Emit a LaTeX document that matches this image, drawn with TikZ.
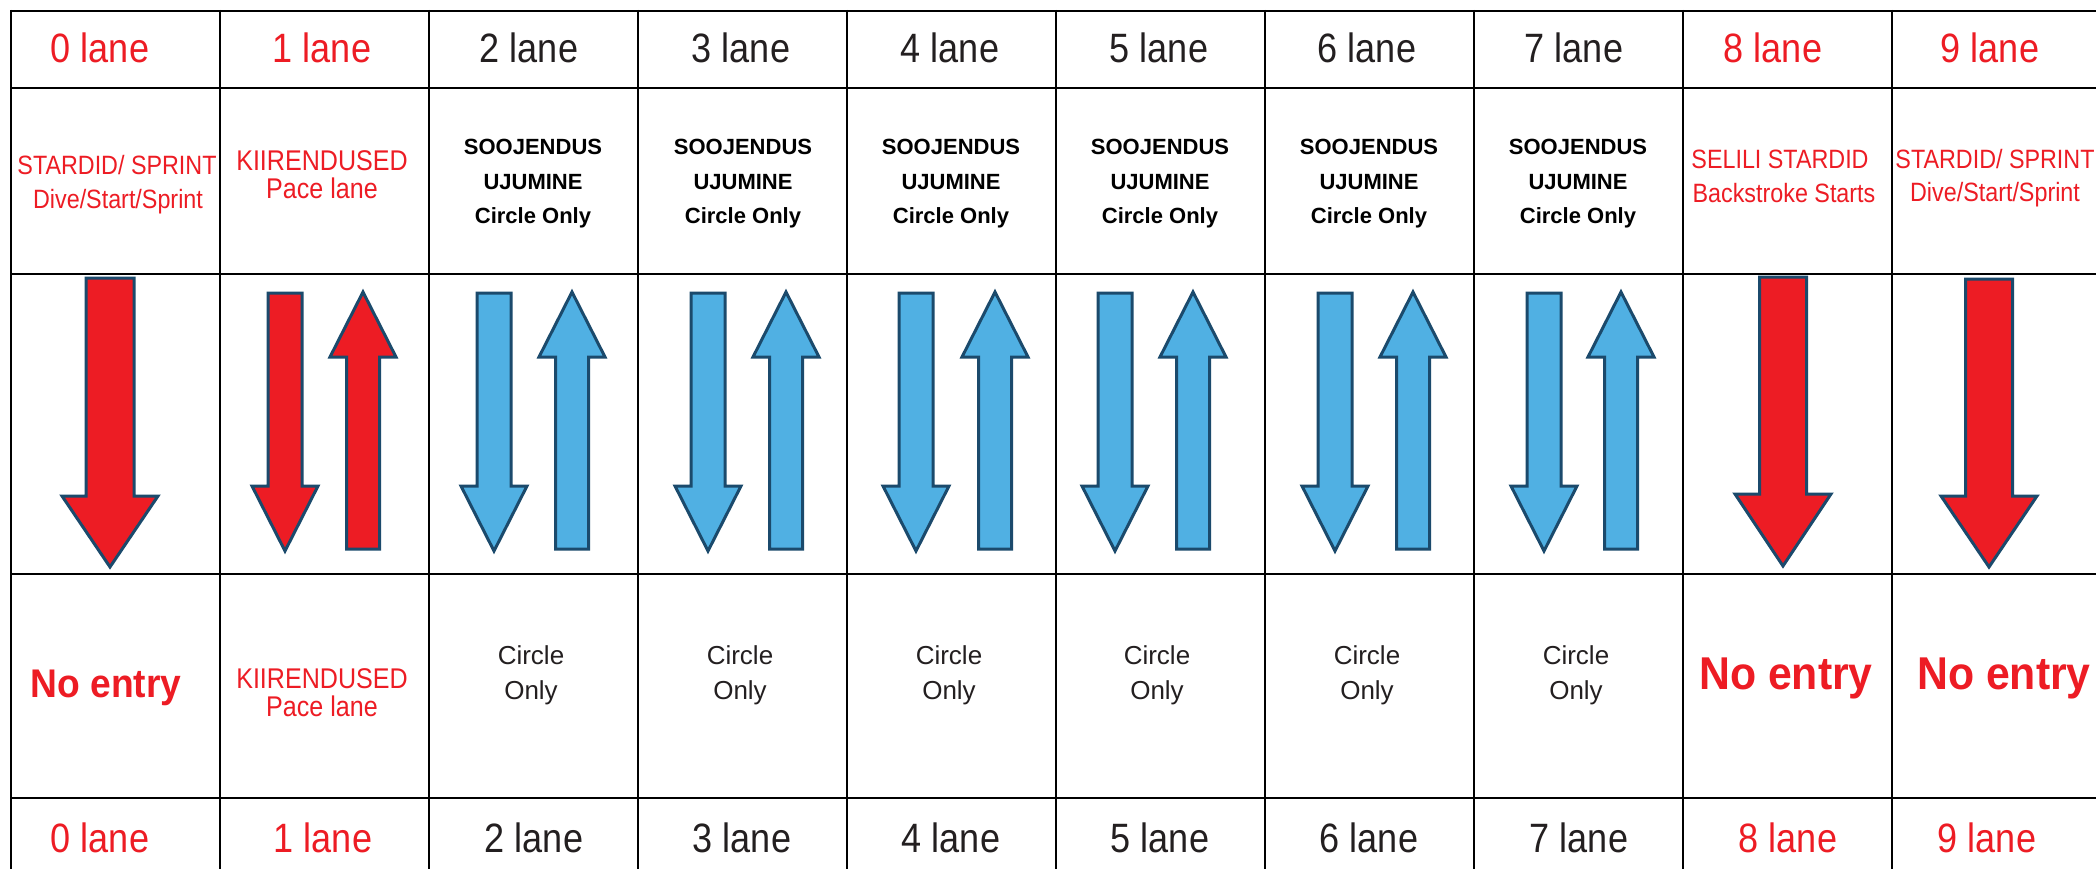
\documentclass[tikz,border=0pt]{standalone}
\usepackage{fontspec}
\setmainfont{Liberation Sans}
\newfontfamily\narrowfont[FakeStretch=0.88]{Liberation Sans}
\newfontfamily\plainfont{Liberation Sans}
\newfontfamily\entryfont[FakeStretch=0.93]{Liberation Sans}
\definecolor{lred}{HTML}{ED1C24}
\definecolor{lblack}{HTML}{231F20}
\definecolor{lblue}{HTML}{50B0E3}
\definecolor{edge}{HTML}{1B4A6C}

% down arrow: centre x, top, head base, tip, shaft width, head width, fill
\newcommand\lanedown[7]{%
  \filldraw[arrowline,fill=#7] ({#1-#5/2},#2) -- ({#1+#5/2},#2) -- ({#1+#5/2},#3)
    -- ({#1+#6/2},#3) -- (#1,#4) -- ({#1-#6/2},#3) -- ({#1-#5/2},#3) -- cycle;}
% up arrow: centre x, tip, head base, bottom, shaft width, head width, fill
\newcommand\laneup[7]{%
  \filldraw[arrowline,fill=#7] (#1,#2) -- ({#1+#6/2},#3) -- ({#1+#5/2},#3) -- ({#1+#5/2},#4)
    -- ({#1-#5/2},#4) -- ({#1-#5/2},#3) -- ({#1-#6/2},#3) -- cycle;}
% pair of arrows for a two-way lane
\newcommand\lanepair[3]{%
  \lanedown{#1}{293}{486}{551}{34}{66}{#3}%
  \laneup{#2}{292}{357}{549}{33}{66}{#3}}

\begin{document}
\begin{tikzpicture}[x=1pt,y=-1pt,
  grid/.style={line width=2.2pt,black},
  arrowline/.style={line width=3pt,draw=edge,line join=miter},
  txt/.style={inner sep=0pt,anchor=base},
  lanelbl/.style={txt,font=\narrowfont\fontsize{41}{41}\selectfont,text=lblack},
  info/.style={txt,font=\narrowfont\fontsize{26.5}{26.5}\selectfont,text=lred},
  infobig/.style={txt,font=\narrowfont\fontsize{28.5}{28.5}\selectfont,text=lred},
  warm/.style={txt,font=\plainfont\bfseries\fontsize{22}{22}\selectfont,text=black},
  circ/.style={txt,font=\plainfont\fontsize{26}{26}\selectfont,text=lblack},
  entry/.style={txt,font=\entryfont\bfseries\fontsize{#1}{#1}\selectfont,text=lred}]
\useasboundingbox (0,0) rectangle (2096,869);
\fill[white] (0,0) rectangle (2096,869);

% table grid
\foreach \gx in {11,220,429,638,847,1056,1265,1474,1683,1892}
  \draw[grid] (\gx,10) -- (\gx,880);
\foreach \gy in {11,88,274,574,798}
  \draw[grid] (10,\gy) -- (2110,\gy);

% lane numbers, top and bottom rows
\node[lanelbl,text=lred] (top0) at (100,63) {0 lane};
\node[lanelbl,text=lred] (top1) at (322,63) {1 lane};
\node[lanelbl] (top2) at (529,63) {2 lane};
\node[lanelbl] (top3) at (741,63) {3 lane};
\node[lanelbl] (top4) at (950,63) {4 lane};
\node[lanelbl] (top5) at (1159,63) {5 lane};
\node[lanelbl] (top6) at (1367,63) {6 lane};
\node[lanelbl] (top7) at (1574,63) {7 lane};
\node[lanelbl,text=lred] (top8) at (1773,63) {8 lane};
\node[lanelbl,text=lred] (top9) at (1990,63) {9 lane};

\node[lanelbl,text=lred] (bot0) at (100,852) {0 lane};
\node[lanelbl,text=lred] (bot1) at (323,852) {1 lane};
\node[lanelbl] (bot2) at (534,852) {2 lane};
\node[lanelbl] (bot3) at (742,852) {3 lane};
\node[lanelbl] (bot4) at (951,852) {4 lane};
\node[lanelbl] (bot5) at (1160,852) {5 lane};
\node[lanelbl] (bot6) at (1369,852) {6 lane};
\node[lanelbl] (bot7) at (1579,852) {7 lane};
\node[lanelbl,text=lred] (bot8) at (1788,852) {8 lane};
\node[lanelbl,text=lred] (bot9) at (1987,852) {9 lane};

% lane purpose
\node[info] (p0a) at (117,175) {STARDID/ SPRINT};
\node[info] (p0b) at (118,208) {Dive/Start/Sprint};
\node[infobig] (p1a) at (322,171) {KIIRENDUSED};
\node[infobig] (p1b) at (322,199) {Pace lane};
\foreach \c/\cx in {2/533,3/743,4/951,5/1160,6/1369,7/1578}{
  \node[warm] (p\c a) at (\cx,155) {SOOJENDUS};
  \node[warm] (p\c b) at (\cx,190) {UJUMINE};
  \node[warm] (p\c c) at (\cx,223) {Circle Only};
}
\node[info] (p8a) at (1780,169) {SELILI STARDID};
\node[info] (p8b) at (1784,203) {Backstroke Starts};
\node[info] (p9a) at (1995,169) {STARDID/ SPRINT};
\node[info] (p9b) at (1995,202) {Dive/Start/Sprint};

% swimming directions
\lanedown{110}{278}{496}{567}{48}{96}{lred}
\lanepair{285}{363}{lred}
\lanepair{494}{572}{lblue}
\lanepair{708}{786}{lblue}
\lanepair{916}{995}{lblue}
\lanepair{1115}{1193}{lblue}
\lanepair{1335}{1413}{lblue}
\lanepair{1544}{1621}{lblue}
\lanedown{1783}{277}{494}{566}{47}{96}{lred}
\lanedown{1989}{279}{496}{567}{47}{96}{lred}

% entry rules
\node[entry=40] (e0) at (106,697) {No entry};
\node[infobig] (e1a) at (322,688) {KIIRENDUSED};
\node[infobig] (e1b) at (322,716) {Pace lane};
\foreach \c/\cx in {2/531,3/740,4/949,5/1157,6/1367,7/1576}{
  \node[circ] (e\c a) at (\cx,664) {Circle};
  \node[circ] (e\c b) at (\cx,699) {Only};
}
\node[entry=46] (e8) at (1786,689) {No entry};
\node[entry=46] (e9) at (2004,689) {No entry};
\end{tikzpicture}
\end{document}
